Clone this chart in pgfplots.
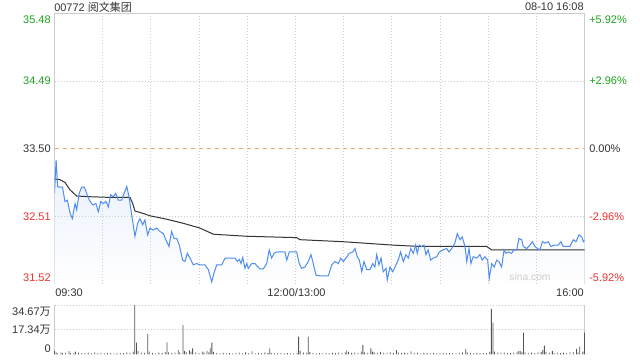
\documentclass[border=0pt]{standalone}
\usepackage{fontspec}
\setmainfont{Liberation Sans}
\newfontfamily\cjk{Noto Sans CJK SC}
\usepackage{pgfplots}
\pgfplotsset{compat=1.18}
\usepackage{pgfplotstable}
\usetikzlibrary{fadings}
\definecolor{bordergray}{HTML}{CCCCCC}
\definecolor{gridgray}{HTML}{CCCCCC}
\definecolor{upgreen}{HTML}{1BA31B}
\definecolor{downred}{HTML}{F0302E}
\definecolor{textgray}{HTML}{333333}
\definecolor{lineblue}{HTML}{4F8EF0}
\definecolor{refor}{HTML}{F4A46A}
\definecolor{volgray}{HTML}{555555}
\definecolor{fillblue}{HTML}{E8F0FD}

\pgfplotstableread{
t p
0 32.85
1 33.34
2 32.95
3 32.94
5 32.94
6.5 32.73
8 32.75
9.7 32.56
11.1 32.48
12.8 32.70
13.8 32.61
15.4 32.85
16.9 32.94
18.6 32.94
20 32.85
21.7 32.75
23.8 32.68
25.8 32.70
27.3 32.58
28.8 32.73
30.4 32.70
32.1 32.73
33.5 32.65
35 32.83
36.6 32.80
38.1 32.85
39.7 32.75
41.8 32.75
43.3 32.85
45 32.95
46.4 32.80
48.1 32.53
50.1 32.22
51.8 32.41
53.2 32.48
54.9 32.39
56.3 32.46
58 32.24
59.5 32.34
61.5 32.31
63.6 32.34
65.7 32.29
67.7 32.26
69.9 32.14
71.3 32.07
72.9 32.29
74.4 32.19
76.1 32.19
77.7 32.09
79.8 31.87
81.2 31.85
82.7 31.97
84.4 31.90
86.4 31.80
88.5 31.82
90.6 31.80
93.7 31.80
95.8 31.73
97.9 31.55
99.3 31.68
101 31.80
104.1 31.80
106.2 31.90
109.3 31.90
112.4 31.90
113.8 31.85
115.1 31.88
116.1 31.82
117.2 31.91
118.6 31.75
119.7 31.82
120.7 31.75
122.8 31.82
124.8 31.82
127.9 31.74
130 31.74
132.1 31.82
133.7 32.02
135.2 31.90
136.7 31.97
138.3 31.99
143.5 31.99
144.6 31.87
146.2 31.99
150.8 31.99
152.4 31.82
153.9 31.75
156 31.77
158 31.85
159.7 31.95
161.1 31.82
162.8 31.65
165.3 31.64
170.5 31.64
172.6 31.80
174.6 31.85
176.7 31.82
178.2 31.90
179.8 31.85
181.5 31.90
183.5 31.97
185.7 31.99
187.1 32.04
188.5 31.92
189.8 31.87
191.3 31.70
192.7 31.85
194.4 31.73
196.4 31.73
198.1 31.82
199.5 31.77
200.6 31.95
202 31.80
203.3 31.90
204.7 31.70
206.4 31.75
207.2 31.58
208.9 31.77
210.6 31.70
212.6 31.80
214 31.87
215.5 31.99
217.2 31.85
218.8 31.95
220.3 31.90
221.8 32.04
223.4 31.97
224.9 32.09
225.9 31.97
227.1 32.09
228.6 32.07
230.1 32.09
231.3 31.95
232.7 32.02
234.2 31.87
235.8 31.90
238 31.92
239.6 31.99
241.7 32.02
244.2 32.04
245.6 31.99
247.3 32.04
249.3 32.12
250.8 32.26
252.5 32.17
253.9 32.21
255.6 32.07
256.7 31.85
258.1 32.04
259.3 31.82
260.7 31.92
262.9 31.90
264.9 31.95
266.3 31.87
268 31.92
269.7 31.87
270.7 31.60
272.2 31.82
273.8 31.77
275.3 31.87
276.7 31.85
278.4 31.77
279.9 32.02
281.1 31.97
282.5 31.99
284.6 31.97
286.1 32.02
287.8 32.02
289.2 32.19
290.9 32.17
291.9 32.07
294 32.04
296 32.09
297.5 32.14
299.2 32.07
300.8 32.04
302.3 32.02
303.7 32.14
305.4 32.12
307.4 32.14
309.1 32.07
311.2 32.09
313.7 32.09
315.3 32.14
316.8 32.07
318.9 32.07
320.9 32.07
323 32.17
324.7 32.14
326.6 32.24
328.3 32.21
329.3 32.14
330 32.16
}\price

\pgfplotstableread{
t a
0 33.06
3.4 33.05
6.5 33.01
9.7 32.90
13.8 32.81
22.1 32.80
34.6 32.79
47 32.79
48.7 32.70
50.1 32.59
53.2 32.57
59.5 32.52
69.9 32.47
80.2 32.41
90.6 32.34
98.9 32.25
119.7 32.22
150.8 32.20
152.8 32.17
179.8 32.14
210.9 32.09
227.6 32.07
269.1 32.07
272.2 32.02
330 32.02
}\avg

\pgfplotstableread{
t v
0 2.5
1 1.2
2 0.8
4 1.5
5 0.9
7 1.2
9 2.3
10 1.0
12 0.8
13 1.9
15 1.3
17 1.0
19 0.9
21 1.2
23 0.7
25 1.5
27 0.8
29 1.0
31 0.7
33 0.9
35 1.1
37 0.6
39 0.8
41 1.0
43 0.9
45 1.4
47 1.2
49 2.0
50 34.67
51 8.2
52 2.5
54 1.2
56 1.0
58 14.3
59 2.0
61 1.1
63 0.8
65 1.3
67 1.0
69 1.8
70 8.5
71 1.5
73 1.0
75 1.2
77 3.0
78 1.5
80 20.6
81 2.5
82 1.6
84 2.8
85 1.9
86 4.3
88 1.5
90 1.0
92 2.0
93 1.2
95 2.4
96 1.5
97 4.3
98 8.2
99 1.7
101 1.0
103 0.8
105 1.1
107 0.7
109 0.9
111 0.8
113 1.0
115 1.2
117 0.8
119 1.5
121 0.9
123 2.2
125 0.8
127 1.0
129 0.9
131 1.2
133 1.0
134 4.3
135 1.1
137 0.8
139 0.9
141 1.0
143 0.7
145 0.9
147 0.8
149 0.7
151 1.0
152 12.4
153 2.5
155 1.3
157 1.0
158 12.4
159 1.8
161 1.0
163 0.8
165 0.9
167 0.7
169 1.0
171 0.8
173 1.1
175 0.9
177 1.2
179 1.0
181 1.5
182 2.6
183 1.8
185 1.0
187 1.2
189 1.0
191 1.9
192 6.6
193 1.5
195 1.0
197 4.3
198 2.0
199 1.5
201 1.3
203 1.8
205 1.2
207 1.0
209 1.4
211 1.0
213 3.0
214 1.5
216 1.0
218 1.2
220 0.9
222 2.2
224 1.0
226 1.3
228 0.8
230 1.0
232 0.9
234 0.8
236 1.0
238 0.7
240 0.9
242 1.0
244 0.8
246 0.9
248 1.0
250 0.7
252 1.0
254 1.5
256 3.8
257 1.5
259 1.0
261 0.9
263 1.0
265 0.8
267 1.1
269 0.9
271 1.8
272 31.9
273 22.3
274 2.0
276 1.2
278 1.0
280 1.3
282 0.9
284 1.0
286 1.2
288 1.8
289 2.5
290 2.5
291 1.5
292 15.2
293 1.5
295 1.0
297 1.2
299 1.0
301 1.4
303 1.8
304 3.0
305 6.1
306 2.0
308 1.2
310 2.5
311 1.0
313 1.2
315 0.9
317 1.3
319 1.0
321 1.5
323 1.8
325 3.8
326 1.5
327 5.4
329 2.0
330 15.2
}\vol

\begin{document}
\fontsize{8.25}{10}\selectfont
\begin{tikzpicture}
\useasboundingbox (0pt,0pt) rectangle (480pt,270pt);
% price panel
\begin{axis}[
  at={(40.875pt,57pt)}, anchor=south west, scale only axis,
  width=397.5pt, height=202.5pt,
  xmin=0, xmax=330, ymin=31.52, ymax=35.48,
  xtick={30,60,90,120,150,180,210,240,270,300}, ytick={32.51,34.49},
  xticklabels={}, yticklabels={},
  major tick length=0pt,
  grid=major, grid style={gridgray, line width=0.6pt, dash pattern=on 0.75pt off 1.5pt},
  axis line style={bordergray, line width=0.75pt},
]
\addplot[fill=fillblue, draw=none] table[x=t,y=p]{\price} \closedcycle;
\fill[white, path fading=north] (axis cs:0,31.52) rectangle (axis cs:330,33.40);
\draw[gridgray, line width=0.6pt, dash pattern=on 0.75pt off 1.5pt] (axis cs:0,32.51) -- (axis cs:330,32.51);
\foreach \gx in {30,60,90,120,150,180,210,240,270,300} {
  \edef\temp{\noexpand\draw[gridgray, line width=0.6pt, dash pattern=on 0.75pt off 1.5pt] (axis cs:\gx,31.52) -- (axis cs:\gx,33.40);}
  \temp
}
\draw[refor, line width=0.75pt, dash pattern=on 3pt off 3pt] (axis cs:0,33.50) -- (axis cs:330,33.50);
\addplot[textgray, line width=0.75pt] table[x=t,y=a]{\avg};
\addplot[lineblue, line width=0.75pt] table[x=t,y=p]{\price};
\end{axis}
% volume panel
\begin{axis}[
  at={(40.875pt,4.2pt)}, anchor=south west, scale only axis,
  width=397.5pt, height=37.05pt,
  xmin=0, xmax=330, ymin=0, ymax=34.67,
  hide axis, clip=false,
]
\draw[gridgray, line width=0.6pt, dash pattern=on 0.75pt off 1.5pt] (axis cs:0,17.34) -- (axis cs:330,17.34);
\draw[gridgray, line width=0.6pt, dash pattern=on 0.75pt off 1.5pt] (axis cs:0,34.67) -- (axis cs:330,34.67);
\draw[bordergray, line width=0.75pt] (axis cs:0,0) -- (axis cs:0,34.67);
\draw[bordergray, line width=0.75pt] (axis cs:330,0) -- (axis cs:330,34.67);
\addplot[ybar, bar width=0.6pt, fill=volgray, draw=none] table[x=t,y=v]{\vol};
\end{axis}
% texts
\begin{scope}[x=0.75pt,y=0.75pt]
\node[anchor=west, text=textgray, inner sep=0pt] at (54,353) {00772 {\cjk 阅文集团}};
\node[anchor=east, text=textgray, inner sep=0pt] at (584,353) {08-10 16:08};
\node[anchor=east, text=upgreen, inner sep=0pt] at (51,340) {35.48};
\node[anchor=east, text=upgreen, inner sep=0pt] at (51,279) {34.49};
\node[anchor=east, text=textgray, inner sep=0pt] at (51,211) {33.50};
\node[anchor=east, text=downred, inner sep=0pt] at (51,143) {32.51};
\node[anchor=east, text=downred, inner sep=0pt] at (51,82) {31.52};
\node[anchor=west, text=upgreen, inner sep=0pt] at (589,340) {+5.92\%};
\node[anchor=west, text=upgreen, inner sep=0pt] at (589,279) {+2.96\%};
\node[anchor=west, text=textgray, inner sep=0pt] at (589,211) {0.00\%};
\node[anchor=west, text=downred, inner sep=0pt] at (589,143) {-2.96\%};
\node[anchor=west, text=downred, inner sep=0pt] at (589,82) {-5.92\%};
\node[anchor=west, text=textgray, inner sep=0pt] at (55,67) {09:30};
\node[anchor=center, text=textgray, inner sep=0pt] at (296.5,67) {12:00/13:00};
\node[anchor=east, text=textgray, inner sep=0pt] at (584,67) {16:00};
\node[anchor=east, text=textgray, inner sep=0pt] at (51,48.5) {34.67{\cjk 万}};
\node[anchor=east, text=textgray, inner sep=0pt] at (51,30) {17.34{\cjk 万}};
\node[anchor=east, text=textgray, inner sep=0pt] at (51,11) {0};
\node[anchor=center, text=black!20, inner sep=0pt, font=\fontsize{7.7}{9}\selectfont] at (530,83) {sina.com};
\end{scope}
\end{tikzpicture}
\end{document}
